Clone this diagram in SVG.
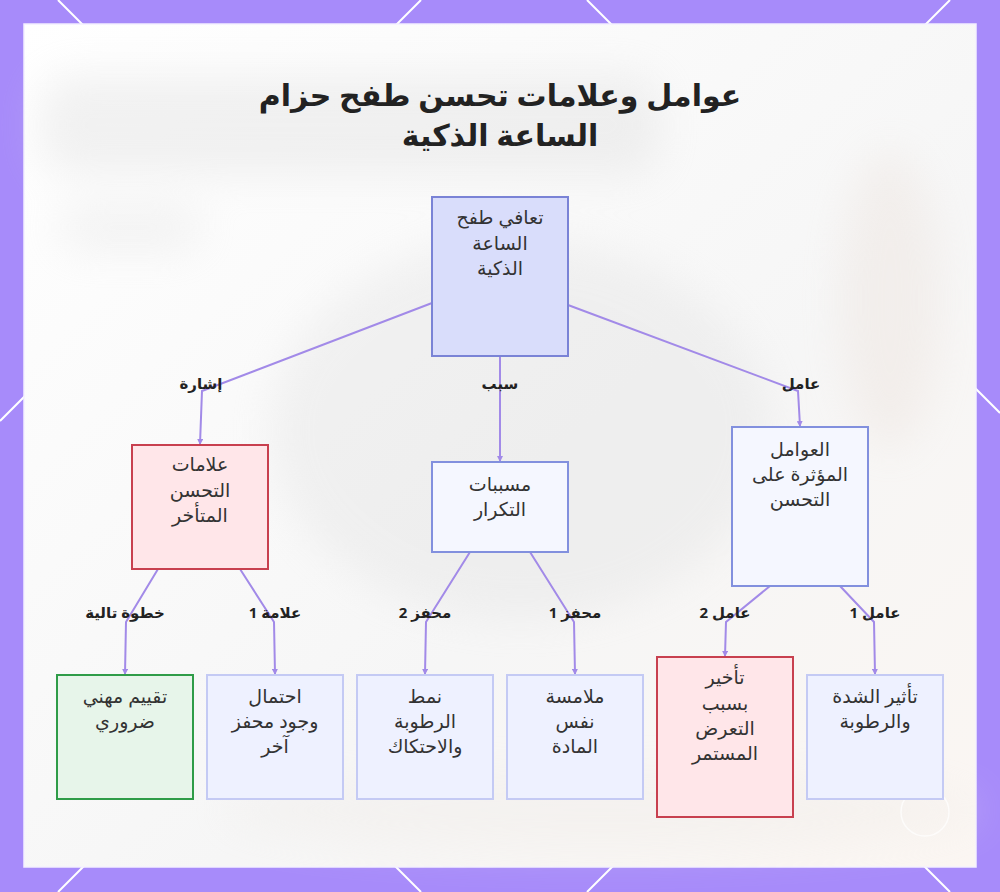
<svg xmlns="http://www.w3.org/2000/svg" width="1000" height="892" viewBox="0 0 1000 892">
<defs>
<style>
.t{font-family:"Noto Sans","DejaVu Sans",sans-serif;font-size:19px;fill:#333;text-anchor:middle;direction:rtl;}
.title{font-family:"Noto Sans","DejaVu Sans",sans-serif;font-size:30px;font-weight:bold;fill:#222;text-anchor:middle;direction:rtl;}
.lbl{font-family:"Noto Sans","DejaVu Sans",sans-serif;font-size:15px;font-weight:bold;fill:#222;text-anchor:middle;direction:rtl;}
.e{fill:none;stroke:#A28AE8;stroke-width:2;}
.blue{fill:#EEF1FF;stroke:#C4CAF4;stroke-width:2;}
.blue2{fill:#F5F7FF;stroke:#8290DE;stroke-width:2;}
.red{fill:#FFE6E9;stroke:#C8404F;stroke-width:2;}
.green{fill:#E7F5EA;stroke:#2F9C48;stroke-width:2;}
.root{fill:#D9DDFB;stroke:#7A83D6;stroke-width:2;}
.deco{stroke:#FFFFFF;stroke-width:2;fill:none;}
</style>
<marker id="arr" markerWidth="6" markerHeight="6" refX="5" refY="3" orient="auto" markerUnits="userSpaceOnUse">
<path d="M0,0 L6,3 L0,6 Z" fill="#A28AE8"/>
</marker>
<filter id="blur" x="-30%" y="-30%" width="160%" height="160%"><feGaussianBlur stdDeviation="20"/></filter>
<linearGradient id="warm" x1="0" y1="0" x2="1" y2="1">
<stop offset="0" stop-color="#FFFFFF"/>
<stop offset="0.6" stop-color="#F6F6F6"/>
<stop offset="1" stop-color="#FBF6F2"/>
</linearGradient>
</defs>
<g id="background">
<rect x="0" y="0" width="1000" height="892" fill="#A78BFA"/>
<line class="deco" x1="58" y1="0" x2="950" y2="892"/>
<line class="deco" x1="421" y1="0" x2="0" y2="421"/>
<line class="deco" x1="587" y1="0" x2="1000" y2="413"/>
<line class="deco" x1="950" y1="0" x2="58" y2="892"/>
<line class="deco" x1="421" y1="892" x2="100" y2="571"/>
<line class="deco" x1="587" y1="892" x2="900" y2="579"/>
<rect x="24" y="24" width="952" height="843" fill="url(#warm)" stroke="#F4F0FF" stroke-width="1.5"/>
<g filter="url(#blur)" opacity="0.35">
<rect x="40" y="75" width="620" height="100" rx="30" fill="#DADADA"/>
<rect x="60" y="205" width="140" height="45" rx="20" fill="#E0E0E0"/>
<ellipse cx="520" cy="430" rx="250" ry="190" fill="#E0E0E0"/>
<ellipse cx="890" cy="300" rx="50" ry="150" fill="#EADFD8"/>
<ellipse cx="600" cy="810" rx="380" ry="40" fill="#EEEAE6"/>
</g>
<circle cx="925" cy="812" r="24" fill="none" stroke="#FFFFFF" stroke-width="1.5" opacity="0.7"/>
</g>
<text class="title" x="500" y="106">عوامل وعلامات تحسن طفح حزام</text>
<text class="title" x="500" y="146">الساعة الذكية</text>
<g id="connectors">
<path class="e" d="M432,303 L202,391 L200,444" marker-end="url(#arr)"/>
<path class="e" d="M500,356 L500,461" marker-end="url(#arr)"/>
<path class="e" d="M568,305 L798,391 L800,426" marker-end="url(#arr)"/>
<path class="e" d="M158,569 L126,622 L125,674" marker-end="url(#arr)"/>
<path class="e" d="M240,569 L274,622 L275,674" marker-end="url(#arr)"/>
<path class="e" d="M470,552 L426,622 L425,674" marker-end="url(#arr)"/>
<path class="e" d="M530,552 L574,622 L575,674" marker-end="url(#arr)"/>
<path class="e" d="M770,586 L726,622 L725,656" marker-end="url(#arr)"/>
<path class="e" d="M840,586 L874,622 L875,674" marker-end="url(#arr)"/>
<text class="lbl" x="201" y="389">إشارة</text>
<text class="lbl" x="500" y="389">سبب</text>
<text class="lbl" x="801" y="389">عامل</text>
<text class="lbl" x="125" y="618">خطوة تالية</text>
<text class="lbl" x="275" y="618">علامة 1</text>
<text class="lbl" x="425" y="618">محفز 2</text>
<text class="lbl" x="575" y="618">محفز 1</text>
<text class="lbl" x="725" y="618">عامل 2</text>
<text class="lbl" x="875" y="618">عامل 1</text>
</g>
<g id="n-root">
<rect class="root" x="432" y="197" width="136" height="159"/>
<text class="t" x="500" y="224">تعافي طفح</text>
<text class="t" x="500" y="250">الساعة</text>
<text class="t" x="500" y="275">الذكية</text>
</g>
<g id="n-signs">
<rect class="red" x="132" y="445" width="136" height="124"/>
<text class="t" x="200" y="471">علامات</text>
<text class="t" x="200" y="497">التحسن</text>
<text class="t" x="200" y="522">المتأخر</text>
</g>
<g id="n-causes">
<rect class="blue2" x="432" y="462" width="136" height="90"/>
<text class="t" x="500" y="491">مسببات</text>
<text class="t" x="500" y="516">التكرار</text>
</g>
<g id="n-factors">
<rect class="blue2" x="732" y="427" width="136" height="159"/>
<text class="t" x="800" y="456">العوامل</text>
<text class="t" x="800" y="481">المؤثرة على</text>
<text class="t" x="800" y="506">التحسن</text>
</g>
<g id="n-eval">
<rect class="green" x="57" y="675" width="136" height="124"/>
<text class="t" x="125" y="703">تقييم مهني</text>
<text class="t" x="125" y="728">ضروري</text>
</g>
<g id="n-other">
<rect class="blue" x="207" y="675" width="136" height="124"/>
<text class="t" x="275" y="703">احتمال</text>
<text class="t" x="275" y="728">وجود محفز</text>
<text class="t" x="275" y="753">آخر</text>
</g>
<g id="n-pattern">
<rect class="blue" x="357" y="675" width="136" height="124"/>
<text class="t" x="425" y="703">نمط</text>
<text class="t" x="425" y="728">الرطوبة</text>
<text class="t" x="425" y="753">والاحتكاك</text>
</g>
<g id="n-contact">
<rect class="blue" x="507" y="675" width="136" height="124"/>
<text class="t" x="575" y="703">ملامسة</text>
<text class="t" x="575" y="728">نفس</text>
<text class="t" x="575" y="753">المادة</text>
</g>
<g id="n-delay">
<rect class="red" x="657" y="657" width="136" height="160"/>
<text class="t" x="725" y="684">تأخير</text>
<text class="t" x="725" y="710">بسبب</text>
<text class="t" x="725" y="735">التعرض</text>
<text class="t" x="725" y="760">المستمر</text>
</g>
<g id="n-intensity">
<rect class="blue" x="807" y="675" width="136" height="124"/>
<text class="t" x="875" y="703">تأثير الشدة</text>
<text class="t" x="875" y="728">والرطوبة</text>
</g>
</svg>
